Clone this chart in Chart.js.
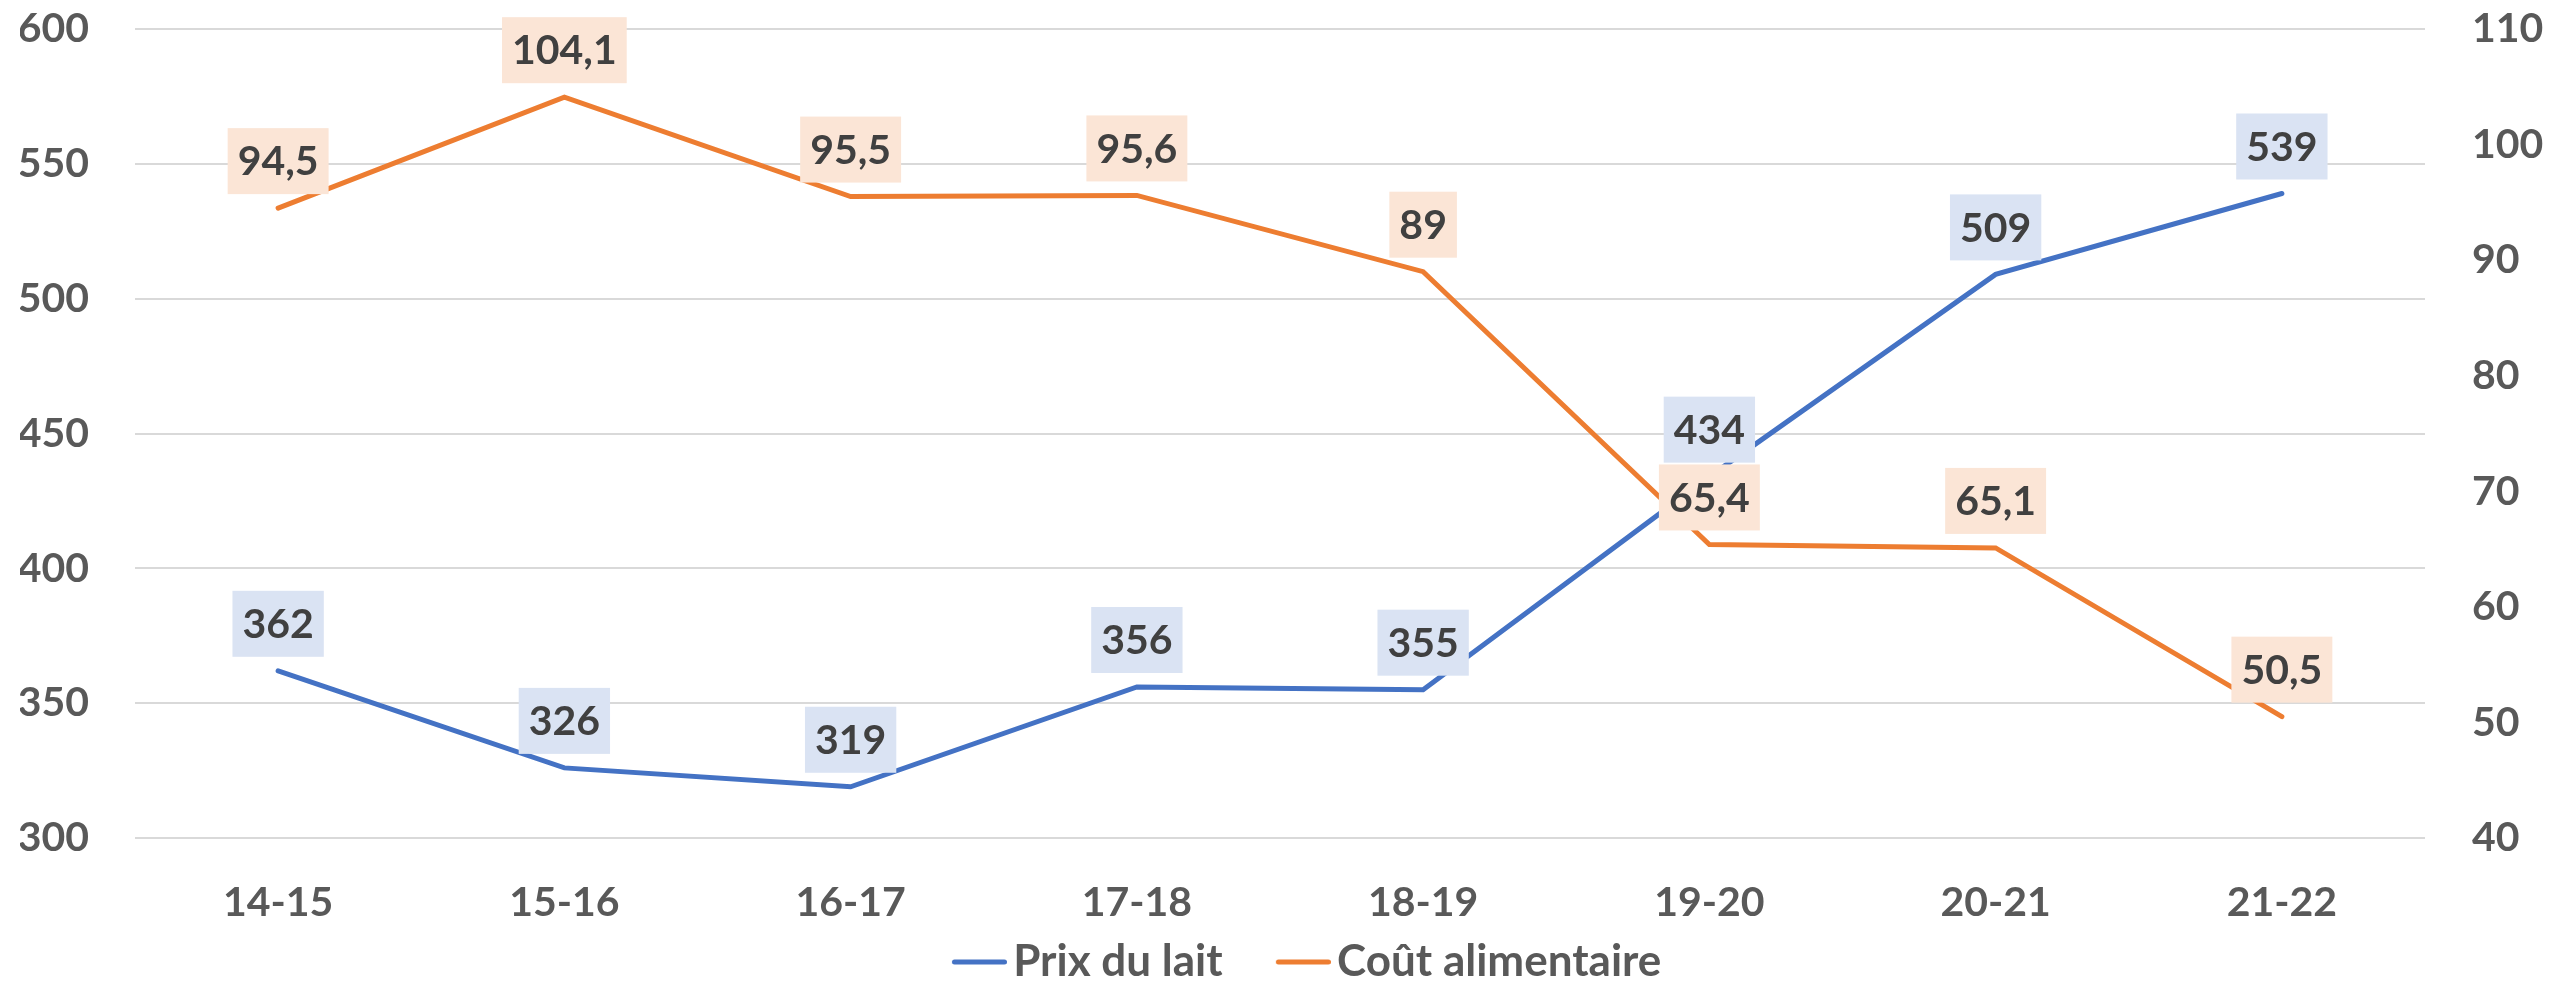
<!DOCTYPE html>
<html lang="fr">
<head>
<meta charset="utf-8">
<title>Prix du lait et coût alimentaire</title>
<script src="https://cdn.jsdelivr.net/npm/chart.js@4/dist/chart.umd.min.js"></script>
<style>
  html, body { margin: 0; padding: 0; background: #ffffff; }
  #wrap { width: 2552px; height: 984px; }
</style>
</head>
<body>
<div id="wrap"><canvas id="chart" width="2552" height="984"></canvas></div>
<script>
// Campagnes laitières
const campagnes = ['14-15', '15-16', '16-17', '17-18', '18-19', '19-20', '20-21', '21-22'];
// Prix du lait (axe de gauche)
const prixDuLait = [362, 326, 319, 356, 355, 434, 509, 539];
// Coût alimentaire (axe de droite)
const coutAlimentaire = [94.5, 104.1, 95.5, 95.6, 89, 65.4, 65.1, 50.5];
// Bornes des deux axes
const axeGauche = { min: 300, max: 600, pas: 50 };
const axeDroit = { min: 40, max: 110, pas: 10 };

const BLEU = '#4472C4';
const ORANGE = '#ED7D31';
const GRIS_TEXTE = '#595959';
const FONT = 'Lato';

const formatFr = v => String(v).replace('.', ',');

// Legend sample: a short rounded line placed so that the label text sits just after it
function echantillon(couleur) {
  const c = document.createElement('canvas');
  c.width = 112; c.height = 10;
  const g = c.getContext('2d');
  g.strokeStyle = couleur;
  g.lineWidth = 5;
  g.lineCap = 'round';
  g.beginPath();
  g.moveTo(59.5, 5);
  g.lineTo(109.5, 5);
  g.stroke();
  return c;
}

// Vertical axes: keep the label padding from pushing the plot area down
function sansMargeVerticale(s) {
  s.paddingTop = 0;
  s.paddingBottom = 0;
}

// Value labels in tinted boxes above every point
const etiquettes = {
  id: 'etiquettes',
  afterDatasetsDraw(chart) {
    const ctx = chart.ctx;
    ctx.save();
    ctx.font = `bold 41px ${FONT}`;
    ctx.textAlign = 'center';
    ctx.textBaseline = 'middle';
    chart.data.datasets.forEach((ds, i) => {
      const meta = chart.getDatasetMeta(i);
      meta.data.forEach((pt, j) => {
        const txt = formatFr(ds.data[j]);
        const tw = ctx.measureText(txt).width;
        const h = 66;
        const bottom = pt.y - 14;
        ctx.fillStyle = ds.etiquetteFond;
        ctx.fillRect(pt.x - tw / 2 - 10, bottom - h, tw + 20, h);
        ctx.fillStyle = '#404040';
        ctx.fillText(txt, pt.x, bottom - h / 2 + 1);
      });
    });
    ctx.restore();
  }
};

new Chart(document.getElementById('chart'), {
  type: 'line',
  data: {
    labels: campagnes,
    datasets: [
      {
        label: 'Prix du lait',
        data: prixDuLait,
        yAxisID: 'y',
        borderColor: BLEU,
        backgroundColor: BLEU,
        borderWidth: 5,
        borderCapStyle: 'round',
        pointRadius: 0,
        tension: 0,
        order: 2,
        etiquetteFond: '#DAE3F3'
      },
      {
        label: 'Coût alimentaire',
        data: coutAlimentaire,
        yAxisID: 'y1',
        borderColor: ORANGE,
        backgroundColor: ORANGE,
        borderWidth: 5,
        borderCapStyle: 'round',
        pointRadius: 0,
        tension: 0,
        order: 1,
        etiquetteFond: '#FBE5D6'
      }
    ]
  },
  options: {
    responsive: false,
    animation: false,
    layout: { padding: { top: 29, left: 20, right: 0, bottom: -10 } },
    plugins: {
      tooltip: { enabled: false },
      legend: {
        position: 'bottom',
        labels: {
          font: { family: FONT, weight: 'bold', size: 44 },
          color: GRIS_TEXTE,
          usePointStyle: true,
          pointStyleWidth: 80.5,
          padding: 12,
          generateLabels(chart) {
            return chart.data.datasets.map((ds, i) => ({
              text: ds.label,
              datasetIndex: i,
              fontColor: GRIS_TEXTE,
              fillStyle: ds.borderColor,
              strokeStyle: ds.borderColor,
              lineWidth: 0,
              hidden: false,
              pointStyle: echantillon(ds.borderColor)
            }));
          }
        }
      }
    },
    scales: {
      x: {
        offset: true,
        grid: { display: false },
        border: { display: false },
        ticks: {
          padding: 32,
          color: GRIS_TEXTE,
          font: { family: FONT, weight: 'bold', size: 41 },
          maxRotation: 0
        },
        afterFit(s) { s.height = 90; }
      },
      y: {
        position: 'left',
        min: axeGauche.min,
        max: axeGauche.max,
        border: { display: false },
        grid: { color: '#D9D9D9', lineWidth: 2, drawTicks: false },
        ticks: {
          stepSize: axeGauche.pas,
          padding: 46,
          color: GRIS_TEXTE,
          font: { family: FONT, weight: 'bold', size: 41 }
        },
        afterFit(s) { s.width = 115; sansMargeVerticale(s); }
      },
      y1: {
        position: 'right',
        min: axeDroit.min,
        max: axeDroit.max,
        border: { display: false },
        grid: { display: false, drawTicks: false },
        ticks: {
          stepSize: axeDroit.pas,
          padding: 47,
          color: GRIS_TEXTE,
          font: { family: FONT, weight: 'bold', size: 41 }
        },
        afterFit(s) { s.width = 127; sansMargeVerticale(s); }
      }
    }
  },
  plugins: [etiquettes]
});
</script>
</body>
</html>
